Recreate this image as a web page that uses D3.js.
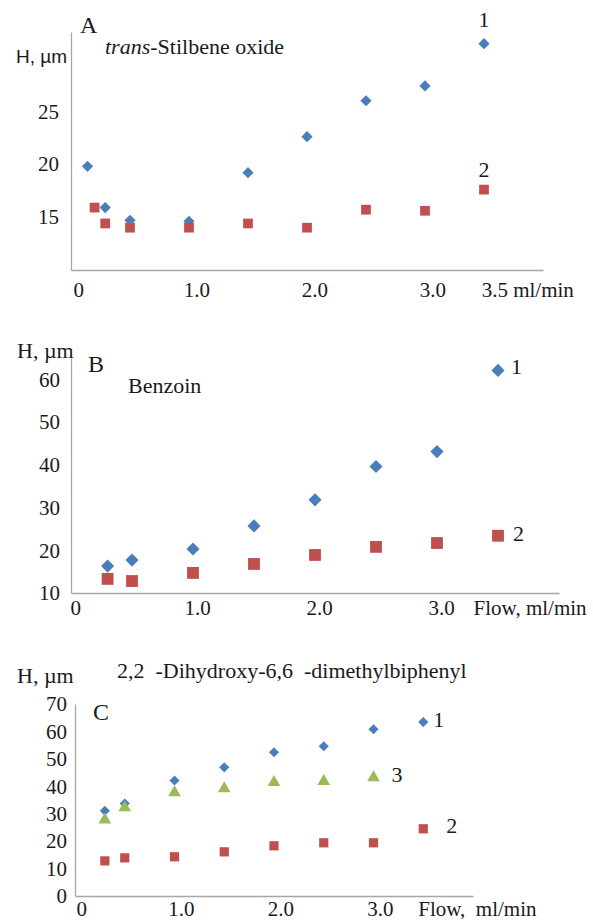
<!DOCTYPE html>
<html>
<head>
<meta charset="utf-8">
<script src="https://cdn.jsdelivr.net/npm/d3@7"></script>
<style>
  body { margin: 0; background: #fff; }
  svg { display: block; }
  text { font-family: 'Liberation Serif', 'DejaVu Serif', serif; fill: #1a1a1a; }
</style>
</head>
<body>
<svg id="chart"></svg>
<script>
//SET UP THE CANVAS
var w = 593;
var h = 923;
var serif = "'Liberation Serif', 'DejaVu Serif', serif";
var sans = "'Liberation Sans', Arial, sans-serif";

var svg = d3.select("#chart")
     .attr("width", w)
     .attr("height", h);

//DATA (flow in ml/min, H in um)
// panel A - trans-Stilbene oxide
var flowA1 = [0.14, 0.29, 0.5, 1.0, 1.5, 2.0, 2.5, 3.0, 3.5];
var hA1 = [19.8, 15.9, 14.7, 14.6, 19.2, 22.6, 26.0, 27.4, 31.4];
var flowA2 = [0.2, 0.29, 0.5, 1.0, 1.5, 2.0, 2.5, 3.0, 3.5];
var hA2 = [15.9, 14.4, 14.0, 14.0, 14.4, 14.0, 15.7, 15.6, 17.6];
var yTicksA = [15, 20, 25];

// panel B - Benzoin
var flowB = [0.3, 0.5, 1.0, 1.5, 2.0, 2.5, 3.0, 3.5];
var hB1 = [16.3, 17.7, 20.3, 25.7, 31.8, 39.6, 43.1, 62.1];
var hB2 = [13.3, 12.8, 14.7, 16.8, 18.9, 20.8, 21.7, 23.4];
var yTicksB = [10, 20, 30, 40, 50, 60];

// panel C - 2,2'-Dihydroxy-6,6'-dimethylbiphenyl
var flowC = [0.3, 0.5, 1.0, 1.5, 2.0, 2.5, 3.0, 3.5];
var hC1 = [31.1, 33.7, 42.1, 46.9, 52.4, 54.6, 60.8, 63.4];
var hC2 = [12.8, 13.9, 14.3, 16.1, 18.3, 19.4, 19.4, 24.5];
var flowC3 = [0.3, 0.5, 1.0, 1.5, 2.0, 2.5, 3.0];
var hC3 = [27.8, 32.2, 37.7, 39.2, 41.4, 41.8, 43.2];
var yTicksC = [0, 10, 20, 30, 40, 50, 60, 70];

var xTicks = [0, 1, 2, 3];

var blue = "#4a7ebb", red = "#c0504d", green = "#9bbb59";

function zip(xs, ys) {
     return xs.map(function (x, i) { return { flow: x, H: ys[i] }; });
}

////DRAW ONE PANEL
function drawPanel(p) {
     var g = svg.append("g");
     var xScale = d3.scaleLinear().domain([0, 4]).range([p.x0, p.x1]);
     var yScale = d3.scaleLinear().domain(p.yDomain).range([p.y0, p.y1]);

     // axes
     var xAxis = g.append("g")
          .attr("transform", "translate(0," + p.y0 + ")")
          .call(d3.axisBottom(xScale).tickValues(xTicks).tickSize(0).tickPadding(p.xPad)
               .tickFormat(function (d) { return d === 0 ? "0" : d3.format(".1f")(d); }));
     var yAxis = g.append("g")
          .attr("transform", "translate(" + p.x0 + ",0)")
          .call(d3.axisLeft(yScale).tickValues(p.yTicks).tickSize(0).tickPadding(p.yPad));
     [xAxis, yAxis].forEach(function (a) {
          a.attr("font-family", null).attr("font-size", null);
          a.select(".domain").attr("stroke", "#a6a6a6").attr("stroke-width", 1.3);
          a.selectAll("text")
               .style("font-family", serif)
               .style("font-size", "21px")
               .attr("fill", "#1a1a1a");
     });
     xAxis.selectAll("text").attr("dx", p.xDx);

     // unit label on the x axis
     g.append("text")
          .attr("x", xScale(p.unitAt))
          .attr("y", p.y0 + p.xPad + 15)
          .style("font-size", "21px")
          .style("white-space", "pre")
          .text(p.unit);

     // series
     p.series.forEach(function (s) {
          var pts = zip(s.x, s.y);
          g.selectAll(null)
               .data(pts)
               .enter()
               .append("path")
               .attr("transform", function (d) {
                    return "translate(" + xScale(d.flow) + "," + yScale(d.H) + ")";
               })
               .attr("d", d3.symbol().type(s.type).size(s.size))
               .attr("fill", s.color);
          var last = pts[pts.length - 1];
          g.append("text")
               .attr("x", xScale(last.flow) + s.ldx)
               .attr("y", yScale(last.H) + s.ldy)
               .attr("text-anchor", s.anchor || "start")
               .style("font-size", "22px")
               .text(s.name);
     });

     // texts
     g.append("text")
          .attr("x", p.hLabel[0]).attr("y", p.hLabel[1])
          .style("font-size", p.hSans ? "19px" : "22px")
          .style("font-family", p.hSans ? sans : null)
          .text("H, \u00b5m");
     g.append("text")
          .attr("x", p.letter[0]).attr("y", p.letter[1])
          .style("font-size", "24px")
          .text(p.letterText);
     var t = g.append("text")
          .attr("x", p.title[0]).attr("y", p.title[1])
          .style("font-size", "22px")
          .style("white-space", "pre");
     p.titleParts.forEach(function (tp) {
          t.append("tspan").style("font-style", tp.italic ? "italic" : null).text(tp.text);
     });
}

drawPanel({
     x0: 71, x1: 543, y0: 270, y1: 32, yDomain: [10, 32.5], yTicks: yTicksA,
     xPad: 12, yPad: 12, xDx: "0.35em", unit: "3.5 ml/min", unitAt: 3.48,
     hLabel: [16, 63], hSans: true, letter: [80, 33], letterText: "A",
     title: [105, 54], titleParts: [{ text: "trans", italic: true }, { text: "-Stilbene oxide" }],
     series: [
          { x: flowA1, y: hA1, type: d3.symbolDiamond2, size: 80, color: blue, name: "1", ldx: 0, ldy: -17, anchor: "middle" },
          { x: flowA2, y: hA2, type: d3.symbolSquare, size: 95, color: red, name: "2", ldx: 0, ldy: -13, anchor: "middle" }
     ]
});

drawPanel({
     x0: 71, x1: 559, y0: 593, y1: 358, yDomain: [10, 65], yTicks: yTicksB,
     xPad: 7, yPad: 11, xDx: "0.2em", unit: "Flow, ml/min", unitAt: 3.3,
     hLabel: [17, 358], hSans: false, letter: [88, 372], letterText: "B",
     title: [128, 393], titleParts: [{ text: "Benzoin" }],
     series: [
          { x: flowB, y: hB1, type: d3.symbolDiamond2, size: 110, color: blue, name: "1", ldx: 13, ldy: 4 },
          { x: flowB, y: hB2, type: d3.symbolSquare, size: 140, color: red, name: "2", ldx: 15, ldy: 5 }
     ]
});

drawPanel({
     x0: 75, x1: 473, y0: 896, y1: 704, yDomain: [0, 70], yTicks: yTicksC,
     xPad: 5, yPad: 8, xDx: "0.3em", unit: "Flow,  ml/min", unitAt: 3.45,
     hLabel: [17, 683], hSans: false, letter: [93, 720], letterText: "C",
     title: [117, 678], titleParts: [{ text: "2,2  -Dihydroxy-6,6  -dimethylbiphenyl" }],
     series: [
          { x: flowC, y: hC1, type: d3.symbolDiamond2, size: 65, color: blue, name: "1", ldx: 10, ldy: 5 },
          { x: flowC, y: hC2, type: d3.symbolSquare, size: 85, color: red, name: "2", ldx: 23, ldy: 4 },
          { x: flowC3, y: hC3, type: d3.symbolTriangle, size: 70, color: green, name: "3", ldx: 18, ldy: 4 }
     ]
});
</script>
</body>
</html>
